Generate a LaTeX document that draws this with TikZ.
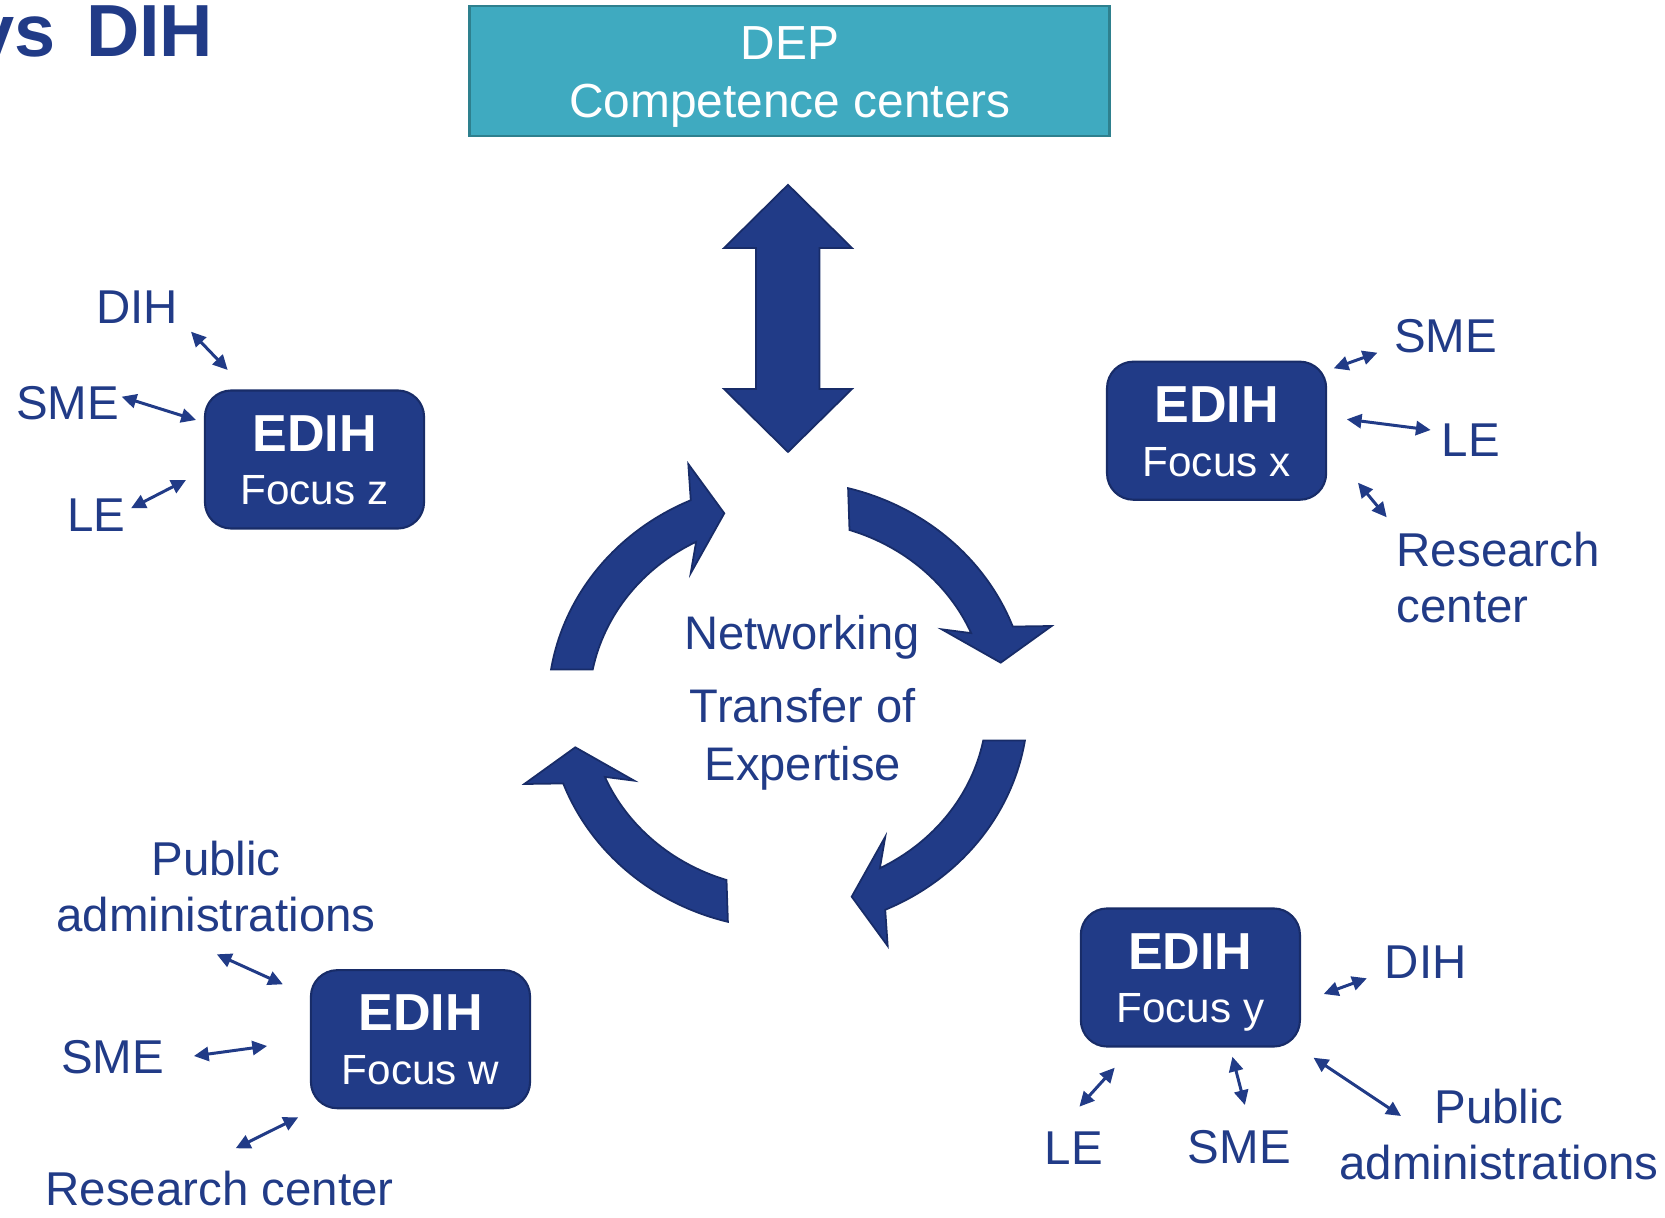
\documentclass[tikz,border=0pt]{standalone}
\usepackage{fontspec}
\setmainfont{Liberation Sans}
\usetikzlibrary{arrows.meta}
\definecolor{edihblue}{RGB}{33,59,135}
\definecolor{edihline}{RGB}{24,44,104}
\definecolor{depteal}{RGB}{63,170,192}
\definecolor{depline}{RGB}{46,128,142}

\begin{document}
\begin{tikzpicture}[
    x=0.01cm, y=-0.01cm,
    hub/.style={rectangle, draw=edihline, line width=0.6pt, fill=edihblue, rounded corners=7.5pt, minimum width=2.19cm, minimum height=1.38cm},
    hubname/.style={anchor=base, inner sep=0pt, text=white, font=\fontsize{14.8}{17}\selectfont\bfseries},
    hubfocus/.style={anchor=base, inner sep=0pt, text=white, font=\fontsize{12}{14}\selectfont},
    actor/.style={anchor=base, inner sep=0pt, text=edihblue, font=\fontsize{13.5}{16.1}\selectfont},
    link/.style={{Triangle[length=4.2pt,width=4pt]}-{Triangle[length=4.2pt,width=4pt]}, line width=0.85pt, draw=edihblue},
    bigarrow/.style={fill=edihblue, draw=edihline, line width=0.5pt}
]
\useasboundingbox (0,0) rectangle (1665,1218);
\clip (0,0) rectangle (1665,1218);

% Title (cut by the page)
\node[anchor=base east, inner sep=0pt, text=edihblue, font=\fontsize{21}{25}\selectfont\bfseries] (title) at (214,56) {vs\hspace{2.8pt} DIH};

% DEP on top
\node[rectangle, draw=depline, line width=0.8pt, fill=depteal, minimum width=6.39cm, minimum height=1.30cm] (dep) at (789.5,71) {};
\node[anchor=base, inner sep=0pt, text=white, text width=6cm, align=flush center, font=\fontsize{13.6}{16.3}\selectfont] (deptext) at (790,60) {DEP\\Competence centers};

% Double arrow DEP <-> network
\filldraw[bigarrow] (788,184.8) -- (852,248) -- (819.5,248) -- (819.5,389) -- (852,389) -- (788,452)
    -- (724,389) -- (756,389) -- (756,248) -- (724,248) -- cycle;

% Cycle of curved arrows
\foreach \turn in {0,180}{
  \begin{scope}[shift={(788,705)}, rotate=\turn]
    \filldraw[bigarrow] (189.1:240 and 224) arc[start angle=189.1, end angle=246.1, x radius=240, y radius=224]
      -- (-99.7,-241) -- (-63.7,-191.7) -- (-97.3,-131.7)
      -- (242.5:199 and 184) arc[start angle=242.5, end angle=191.1, x radius=199, y radius=184] -- cycle;
    \filldraw[bigarrow] (284.5:240 and 224) arc[start angle=284.5, end angle=339.5, x radius=240, y radius=224]
      -- (263.7,-79) -- (212.7,-42.3) -- (153.7,-75.7)
      -- (337:199 and 184) arc[start angle=337, end angle=288, x radius=199, y radius=184] -- cycle;
  \end{scope}
}

% Centre text
\node[actor, font=\fontsize{13.4}{16.6}\selectfont] (net) at (802,649) {Networking};
\node[actor, text width=4cm, align=flush center, font=\fontsize{13.4}{16.6}\selectfont] (transfer) at (803,722.5) {Transfer of\\Expertise};

% EDIH hubs
\node[hub] (ez) at (314.5,459.5) {};
\node[hubname] (ezname) at ([yshift=2.4pt]ez.center) {EDIH};
\node[hubfocus] (ezfocus) at ([yshift=-12.9pt]ez.center) {Focus z};

\node[hub] (ex) at (1216.6,430.7) {};
\node[hubname] (exname) at ([yshift=2.4pt]ex.center) {EDIH};
\node[hubfocus] (exfocus) at ([yshift=-12.9pt]ex.center) {Focus x};

\node[hub] (ew) at (420.5,1039.2) {};
\node[hubname] (ewname) at ([yshift=2.4pt]ew.center) {EDIH};
\node[hubfocus] (ewfocus) at ([yshift=-12.9pt]ew.center) {Focus w};

\node[hub] (ey) at (1190.4,977.5) {};
\node[hubname] (eyname) at ([yshift=2.4pt]ey.center) {EDIH};
\node[hubfocus] (eyfocus) at ([yshift=-12.9pt]ey.center) {Focus y};

% Partners of focus z
\node[actor] (zdih) at (137,323.3) {DIH};
\node[actor] (zsme) at (67.5,419.3) {SME};
\node[actor] (zle) at (96.4,531.7) {LE};
\coordinate (zd1) at (191,331.7);   \coordinate (zd2) at (227.7,370);
\coordinate (zs1) at (121.7,396.7); \coordinate (zs2) at (196,420);
\coordinate (zl1) at (131,508.3);   \coordinate (zl2) at (186,480);
\draw[link] (zd1) -- (zd2);
\draw[link] (zs1) -- (zs2);
\draw[link] (zl1) -- (zl2);

% Partners of focus x
\node[actor] (xsme) at (1445.6,352.7) {SME};
\node[actor] (xle) at (1471,456) {LE};
\node[actor, anchor=base west, text width=2.3cm, align=flush left] (xrc) at (1396,566) {Research\\center};
\coordinate (xs1) at (1333.7,368.3); \coordinate (xs2) at (1377.4,352.7);
\coordinate (xl1) at (1346.8,419.3); \coordinate (xl2) at (1430.7,430);
\coordinate (xr1) at (1358,482.7);   \coordinate (xr2) at (1386.7,517.3);
\draw[link] (xs1) -- (xs2);
\draw[link] (xl1) -- (xl2);
\draw[link] (xr1) -- (xr2);

% Partners of focus w
\node[actor, text width=3.4cm, align=flush center] (wpa) at (216,875) {Public\\administrations};
\node[actor] (wsme) at (112.5,1073.3) {SME};
\node[actor] (wrc) at (219.6,1205) {Research center};
\coordinate (wp1) at (216.8,954.3);  \coordinate (wp2) at (282.9,984.3);
\coordinate (ws1) at (193.9,1056);   \coordinate (ws2) at (267.1,1046);
\coordinate (wr1) at (235.7,1148.3); \coordinate (wr2) at (298.2,1117.3);
\draw[link] (wp1) -- (wp2);
\draw[link] (ws1) -- (ws2);
\draw[link] (wr1) -- (wr2);

% Partners of focus y
\node[actor] (ydih) at (1425.7,978.3) {DIH};
\node[actor] (yle) at (1074,1164) {LE};
\node[actor] (ysme) at (1239.4,1163.3) {SME};
\node[actor, text width=3.4cm, align=flush center] (ypa) at (1499,1123.3) {Public\\administrations};
\coordinate (yd1) at (1323.7,994);    \coordinate (yd2) at (1366.9,978.3);
\coordinate (yl1) at (1079.4,1106.7); \coordinate (yl2) at (1114.7,1067.7);
\coordinate (ys1) at (1232.4,1056.7); \coordinate (ys2) at (1244.9,1105);
\coordinate (yp1) at (1313.5,1057.7); \coordinate (yp2) at (1401,1116);
\draw[link] (yd1) -- (yd2);
\draw[link] (yl1) -- (yl2);
\draw[link] (ys1) -- (ys2);
\draw[link] (yp1) -- (yp2);

\end{tikzpicture}
\end{document}
